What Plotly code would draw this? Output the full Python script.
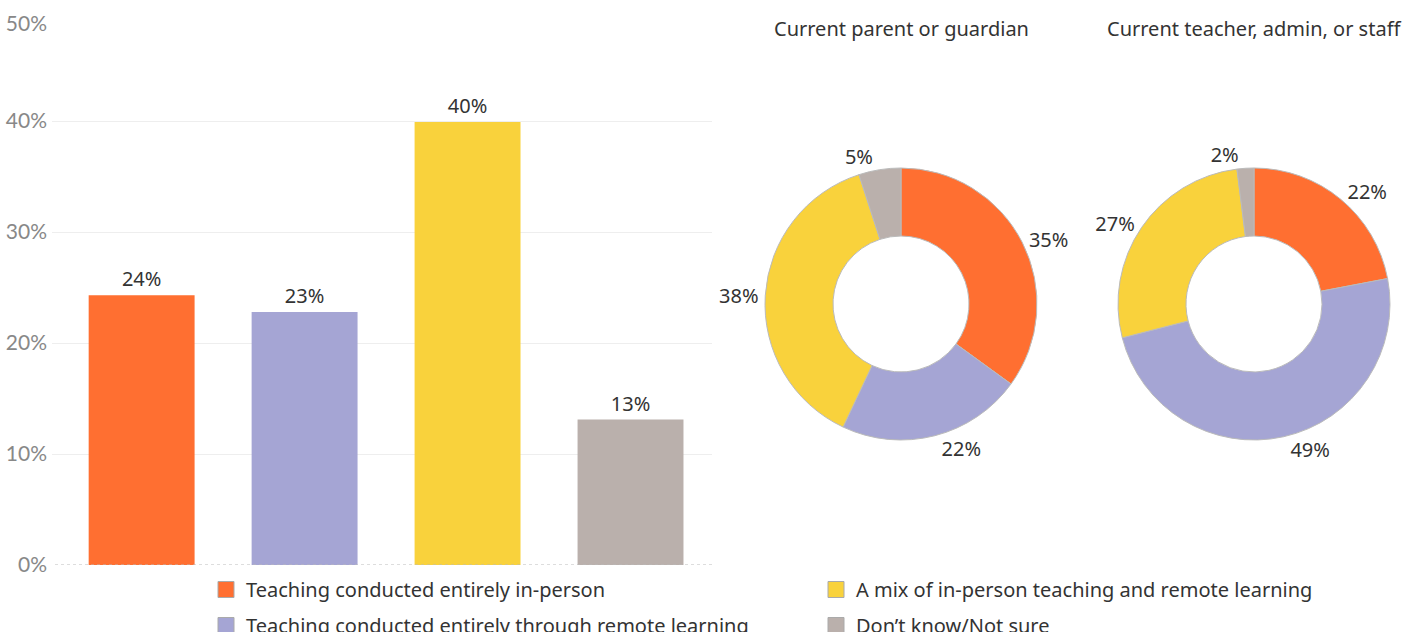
import plotly.graph_objects as go

# data
categories = [
    "Teaching conducted entirely in-person",
    "Teaching conducted entirely through remote learning",
    "A mix of in-person teaching and remote learning",
    "Don\u2019t know/Not sure",
]
overall_pct = [24.3, 22.8, 39.9, 13.1]
parent_pct = [35, 22, 38, 5]
teacher_pct = [22, 49, 27, 2]
pie_titles = ["Current parent or guardian", "Current teacher, admin, or staff"]
y_ticks = [0, 10, 20, 30, 40, 50]

colors = ["#FF6F31", "#A5A5D4", "#F9D23C", "#BAB0AC"]
font_main = "Noto Sans"
W, H = 1422, 632

fig = go.Figure()

# bars, one trace per category so the colours stay put
for i, cat in enumerate(categories):
    fig.add_trace(go.Bar(
        x=[i], y=[overall_pct[i]],
        marker=dict(color=colors[i], line=dict(width=0)),
        text=[f"{round(overall_pct[i])}%"], textposition="outside",
        textfont=dict(size=20, color="#333333", family=font_main),
        cliponaxis=False, width=0.65, showlegend=False,
    ))

# legend entries (two columns -> two legends)
legend_of = ["legend", "legend", "legend2", "legend2"]
for i, cat in enumerate(categories):
    fig.add_trace(go.Scatter(
        x=[None], y=[None], mode="markers", name=cat,
        marker=dict(symbol="square", size=20, color=colors[i],
                    line=dict(color="#AAAAAA", width=1)),
        legend=legend_of[i], legendgroup=f"g{i}", showlegend=True,
    ))

# donuts
pie_domains = [[765 / W, 1037 / W], [1118 / W, 1390 / W]]
for vals, dom in zip([parent_pct, teacher_pct], pie_domains):
    fig.add_trace(go.Pie(
        labels=categories, values=vals, sort=False, direction="clockwise",
        rotation=0, hole=0.5,
        marker=dict(colors=colors, line=dict(color="#BBBBBB", width=1)),
        texttemplate="%{value}%", textposition="outside",
        textfont=dict(size=20, color="#333333", family=font_main),
        domain=dict(x=dom, y=[1 - 440 / H, 1 - 168 / H]),
        showlegend=False, hoverinfo="label+value",
    ))

for title, dom in zip(pie_titles, pie_domains):
    fig.add_annotation(
        text=title, x=(dom[0] + dom[1]) / 2, y=1 - 28 / H,
        xref="paper", yref="paper", xanchor="center", yanchor="middle",
        showarrow=False,
        font=dict(size=20, color="#333333", family=font_main),
    )

# dotted baseline
fig.add_shape(type="line", xref="paper", yref="y", x0=55 / W, x1=712 / W,
              y0=0, y1=0, line=dict(color="#BBBBBB", width=1, dash="dot"))

# top tick label sits just under its gridline, like the original
tick_text = [f"{t}%" for t in y_ticks]
tick_text[-1] = "<br>" + tick_text[-1]

legend_style = dict(yanchor="top", xanchor="left", orientation="v",
                    bgcolor="rgba(0,0,0,0)", tracegroupgap=7,
                    font=dict(size=20, color="#333333", family=font_main),
                    itemsizing="trace")

fig.update_layout(
    width=W, height=H,
    margin=dict(l=0, r=0, t=0, b=0, autoexpand=False),
    paper_bgcolor="white", plot_bgcolor="white",
    xaxis=dict(domain=[52 / W, 712 / W], range=[-0.55, 3.5],
               showticklabels=False, showgrid=False, zeroline=False,
               fixedrange=True),
    yaxis=dict(domain=[1 - 565 / H, 1 - 10 / H], range=[0, 50],
               tickvals=y_ticks, ticktext=tick_text,
               tickfont=dict(size=21, color="#888888", family="Lato"),
               gridcolor="#EEEEEE", zeroline=False, showline=False,
               ticks="", ticklabelstandoff=4, ticklabeloverflow="allow",
               automargin=False),
    legend=dict(x=206 / W, y=1 - 570 / H, **legend_style),
    legend2=dict(x=816 / W, y=1 - 570 / H, **legend_style),
)

fig.write_html("out.html", config={"displayModeBar": False},
               post_script="document.body.style.margin='0';")
